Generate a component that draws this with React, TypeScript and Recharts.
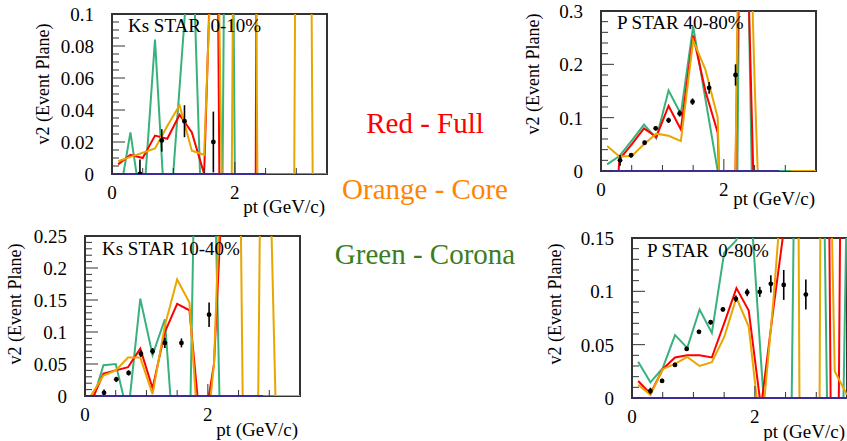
import React from "react";
import {
  ComposedChart,
  Line,
  Scatter,
  ErrorBar,
  XAxis,
  YAxis,
  ReferenceArea,
  ReferenceLine,
} from "recharts";

// model pt bins (GeV/c)
const ptBins = [0.1, 0.3, 0.5, 0.7, 0.9, 1.1, 1.3, 1.5, 1.7, 1.9, 2.1, 2.3, 2.5, 2.7, 2.9, 3.1, 3.3, 3.5];

// Ks STAR 0-10%
const ks010Full = [0.006, 0.012, 0.01, 0.024, 0.022, 0.037, 0.026, 0.0, 0.25, -0.8, -0.5, -0.5, 2.0, 2.0, 2.0, 2.0, 2.0, 2.0];
const ks010Core = [0.008, 0.0107, 0.0133, 0.016, 0.03, 0.043, 0.0145, 0.012, 0.22, -0.3, 0.9, 0.4, -0.8, -0.5, -0.5, 1.0, -0.2, -0.2];
const ks010Corona = [-0.019, 0.026, -0.026, 0.084, -0.05, 0.054, 0.16, -0.08, -0.5, 0.5, -0.5, 0, 0, 0, 0, 0, 0, 0];
const ks010StarPt = [0.455, 0.81, 1.18, 1.65];
const ks010StarV2 = [0.0, 0.021, 0.033, 0.02];
const ks010StarErr = [0.009, 0.007, 0.01, 0.019];

// P STAR 40-80%
const p4080Full = [-0.3, 0.022, 0.05, 0.08, 0.064, 0.122, 0.078, 0.254, 0.15, 0.072, -0.65, 0.8, -0.1, -0.3, -0.3, -0.3, -0.3, -0.3];
const p4080Core = [0.047, 0.027, 0.028, 0.05, 0.07, 0.066, 0.056, 0.245, 0.19, 0.1, -0.8, 1.0, 0.17, -0.5, -0.5, 0, 0, 0];
const p4080Corona = [0.0125, 0.028, 0.057, 0.087, 0.061, 0.151, 0.107, 0.271, 0.135, 0.0, -1.5, 1.0, -0.3, 0, 0, 0, 0, 0];
const p4080StarPt = [0.31, 0.49, 0.71, 0.89, 1.1, 1.28, 1.49, 1.76, 2.19];
const p4080StarV2 = [0.02, 0.0295, 0.053, 0.08, 0.095, 0.108, 0.13, 0.156, 0.18];
const p4080StarErr = [0.01, 0.004, 0.004, 0.004, 0.005, 0.006, 0.006, 0.011, 0.02];

// Ks STAR 10-40%
const ks1040Full = [-0.009, 0.035, 0.04, 0.045, 0.074, 0.012, 0.1, 0.144, 0.134, -0.07, 0.05, 0.45, 1.0, 1.0, 1.0, 1.0, 1.0, 1.0];
const ks1040Core = [0.001, 0.032, 0.04, 0.06, 0.06, 0.003, 0.11, 0.182, 0.146, -0.14, 0.05, 0.6, 0.6, -1.2, 0.8, 0, 0, 0];
const ks1040Corona = [-0.015, 0.048, 0.05, -0.03, 0.152, 0.064, 0.12, -0.147, -0.1, 1.0, 0.4, -0.5, 0, 0, 0, 0, 0, 0];
const ks1040StarPt = [0.31, 0.51, 0.71, 0.91, 1.1, 1.3, 1.57, 2.02];
const ks1040StarV2 = [0.005, 0.026, 0.036, 0.066, 0.07, 0.083, 0.083, 0.127];
const ks1040StarErr = [0.005, 0.004, 0.004, 0.005, 0.005, 0.008, 0.007, 0.019];

// P STAR 0-80%
const p080Full = [0.016, 0.004, 0.027, 0.038, 0.04, 0.04, 0.038, 0.07, 0.103, 0.082, -0.009, 0.083, 0.17, 0.5, 0.5, 1.0, -0.5, 1.0];
const p080Core = [0.0125, 0.003, 0.027, 0.032, 0.0385, 0.03, 0.0335, 0.057, 0.094, 0.067, -0.036, 0.09, 0.24, 0.3, -2.0, 0.6, 0.025, 0.003];
const p080Corona = [0.034, 0.0147, 0.028, 0.059, 0.047, 0.083, 0.061, 0.136, 0.148, 0.21, 0.035, -0.13, -0.5, 0.5, 0.5, 0.3, -0.5, 0.2];
const p080StarPt = [0.3, 0.49, 0.7, 0.89, 1.09, 1.28, 1.48, 1.69, 1.875, 2.08, 2.26, 2.47, 2.83];
const p080StarV2 = [0.0066, 0.016, 0.031, 0.046, 0.062, 0.071, 0.083, 0.093, 0.099, 0.0995, 0.107, 0.106, 0.097];
const p080StarErr = [0.003, 0.002, 0.002, 0.002, 0.002, 0.002, 0.002, 0.003, 0.0035, 0.0047, 0.008, 0.014, 0.014];

// axis ticks
const xTicks = [0, 0.5, 1, 1.5, 2, 2.5, 3];
const xMajor = [0, 2];
const xLabels = ["0", "2"];

const ks010YMajor = [0, 0.02, 0.04, 0.06, 0.08, 0.1];
const ks010YLabels = ["0", "0.02", "0.04", "0.06", "0.08", "0.1"];
const p4080YMajor = [0, 0.1, 0.2, 0.3];
const p4080YLabels = ["0", "0.1", "0.2", "0.3"];
const ks1040YMajor = [0, 0.05, 0.1, 0.15, 0.2, 0.25];
const ks1040YLabels = ["0", "0.05", "0.1", "0.15", "0.2", "0.25"];
const p080YMajor = [0, 0.05, 0.1, 0.15];
const p080YLabels = ["0", "0.05", "0.1", "0.15"];

const FONT = "'Liberation Serif', 'Times New Roman', serif";
const RED = "#ff0000";
const CORE = "#e8a600";
const CORONA = "#38b27c";
const ZERO = "#3a2d98";
const FRAME = "#333";

const PW = 215;
const PH = 160;
const ML = 60;
const MT = 10;
const MR = 10;
const MB = 40;

function steps(max: number, step: number) {
  const out: number[] = [];
  const n = Math.round(max / step);
  for (let i = 0; i <= n; i++) out.push(+(i * step).toFixed(4));
  return out;
}

const near = (a: number, b: number) => Math.abs(a - b) < 1e-6;

type PanelProps = {
  left: number;
  top: number;
  yMax: number;
  yStep: number;
  yMajor: number[];
  yLabels: string[];
  full: number[];
  core: number[];
  corona: number[];
  starPt: number[];
  starV2: number[];
  starErr: number[];
  zeroEnd: number;
  title: string;
  titlePos: [number, number];
  yTitlePos: [number, number];
  xTitlePos: [number, number];
};

function Panel(p: PanelProps) {
  const rows = ptBins.map((pt, i) => ({
    pt,
    full: p.full[i],
    core: p.core[i],
    corona: p.corona[i],
  }));
  // error bar is cut at the x axis, as in the frame
  const star = p.starPt.map((pt, i) => ({
    pt,
    v2: p.starV2[i],
    err: [Math.min(p.starErr[i], p.starV2[i]), p.starErr[i]],
  }));

  const yTick = (props: any) => {
    const { x, y, payload } = props;
    const k = p.yMajor.findIndex((m) => near(m, payload.value));
    return (
      <g>
        <line x1={x} x2={x + (k >= 0 ? 13 : 7)} y1={y} y2={y} stroke={FRAME} strokeWidth={1} />
        {k >= 0 && (
          <text x={x - 18} y={y} dy="0.36em" textAnchor="end" fontSize={19} fontFamily={FONT} fill="#000">
            {p.yLabels[k]}
          </text>
        )}
      </g>
    );
  };

  const xTick = (props: any) => {
    const { x, y, payload } = props;
    const k = xMajor.findIndex((m) => near(m, payload.value));
    return (
      <g>
        <line x1={x} x2={x} y1={y} y2={y - (k >= 0 ? 12 : 6)} stroke={FRAME} strokeWidth={1} />
        {k >= 0 && (
          <text x={x} y={y + 18} dy="0.36em" textAnchor="middle" fontSize={19} fontFamily={FONT} fill="#000">
            {xLabels[k]}
          </text>
        )}
      </g>
    );
  };

  return (
    <>
      <div style={{ position: "absolute", left: p.left - ML, top: p.top - MT }}>
        <ComposedChart
          width={ML + PW + MR}
          height={MT + PH + MB}
          data={rows}
          margin={{ top: MT, right: MR, left: ML - 1, bottom: MB - 1 }}
        >
          <XAxis
            type="number"
            dataKey="pt"
            domain={[0, 3.5]}
            allowDataOverflow
            ticks={xTicks}
            interval={0}
            height={1}
            tickSize={0}
            tickMargin={0}
            axisLine={false}
            tickLine={false}
            tick={xTick}
          />
          <YAxis
            type="number"
            domain={[0, p.yMax]}
            allowDataOverflow
            ticks={steps(p.yMax, p.yStep)}
            interval={0}
            width={1}
            tickSize={0}
            tickMargin={0}
            axisLine={false}
            tickLine={false}
            tick={yTick}
          />
          <ReferenceArea x1={0} x2={3.5} y1={0} y2={p.yMax} fill="none" fillOpacity={0} stroke={FRAME} strokeWidth={2} />
          <Line type="linear" dataKey="corona" stroke={CORONA} strokeWidth={2} dot={false} isAnimationActive={false} />
          <Line type="linear" dataKey="full" stroke={RED} strokeWidth={2} dot={false} isAnimationActive={false} />
          <Line type="linear" dataKey="core" stroke={CORE} strokeWidth={2} dot={false} isAnimationActive={false} />
          <Scatter
            data={star}
            dataKey="v2"
            isAnimationActive={false}
            shape={(s: any) => <circle cx={s.cx} cy={s.cy} r={2.4} fill="#000" />}
          >
            <ErrorBar dataKey="err" direction="y" width={0} stroke="#000" strokeWidth={1.6} />
          </Scatter>
          <ReferenceLine
            segment={[
              { x: 0, y: 0 },
              { x: p.zeroEnd, y: 0 },
            ]}
            stroke={ZERO}
            strokeWidth={2}
          />
        </ComposedChart>
      </div>
      <div
        style={{
          position: "absolute",
          left: p.titlePos[0],
          top: p.titlePos[1],
          fontFamily: FONT,
          fontSize: 19,
          lineHeight: "19px",
          whiteSpace: "pre",
          color: "#000",
        }}
      >
        {p.title}
      </div>
      <div
        style={{
          position: "absolute",
          left: p.yTitlePos[0],
          top: p.yTitlePos[1],
          transform: "translate(-50%, -50%) rotate(-90deg)",
          fontFamily: FONT,
          fontSize: 18,
          lineHeight: "18px",
          whiteSpace: "nowrap",
          color: "#000",
        }}
      >
        v2 (Event Plane)
      </div>
      <div
        style={{
          position: "absolute",
          left: p.xTitlePos[0] - 200,
          width: 200,
          top: p.xTitlePos[1],
          textAlign: "right",
          fontFamily: FONT,
          fontSize: 19,
          lineHeight: "19px",
          whiteSpace: "nowrap",
          color: "#000",
        }}
      >
        pt (GeV/c)
      </div>
    </>
  );
}

const legendStyle = (color: string, top: number): React.CSSProperties => ({
  position: "absolute",
  left: 300,
  width: 250,
  top,
  textAlign: "center",
  fontFamily: FONT,
  fontSize: 29,
  lineHeight: "29px",
  whiteSpace: "nowrap",
  color,
});

export default function App() {
  return (
    <div
      style={{
        position: "absolute",
        left: 0,
        top: 0,
        width: 847,
        height: 441,
        overflow: "hidden",
        background: "#fff",
      }}
    >
      <Panel
        left={112}
        top={14}
        yMax={0.1}
        yStep={0.005}
        yMajor={ks010YMajor}
        yLabels={ks010YLabels}
        full={ks010Full}
        core={ks010Core}
        corona={ks010Corona}
        starPt={ks010StarPt}
        starV2={ks010StarV2}
        starErr={ks010StarErr}
        zeroEnd={2.5}
        title={"Ks STAR  0-10%"}
        titlePos={[128, 16]}
        yTitlePos={[43, 84]}
        xTitlePos={[325, 197]}
      />
      <Panel
        left={601}
        top={11}
        yMax={0.3}
        yStep={0.02}
        yMajor={p4080YMajor}
        yLabels={p4080YLabels}
        full={p4080Full}
        core={p4080Core}
        corona={p4080Corona}
        starPt={p4080StarPt}
        starV2={p4080StarV2}
        starErr={p4080StarErr}
        zeroEnd={2.9}
        title={"P STAR 40-80%"}
        titlePos={[617, 13]}
        yTitlePos={[533, 74]}
        xTitlePos={[815, 189]}
      />
      <Panel
        left={85}
        top={236}
        yMax={0.25}
        yStep={0.01}
        yMajor={ks1040YMajor}
        yLabels={ks1040YLabels}
        full={ks1040Full}
        core={ks1040Core}
        corona={ks1040Corona}
        starPt={ks1040StarPt}
        starV2={ks1040StarV2}
        starErr={ks1040StarErr}
        zeroEnd={2.9}
        title={"Ks STAR 10-40%"}
        titlePos={[102, 239]}
        yTitlePos={[15, 304]}
        xTitlePos={[298, 420]}
      />
      <Panel
        left={632}
        top={238}
        yMax={0.15}
        yStep={0.01}
        yMajor={p080YMajor}
        yLabels={p080YLabels}
        full={p080Full}
        core={p080Core}
        corona={p080Corona}
        starPt={p080StarPt}
        starV2={p080StarV2}
        starErr={p080StarErr}
        zeroEnd={3.5}
        title={"P STAR  0-80%"}
        titlePos={[647, 241]}
        yTitlePos={[555, 304]}
        xTitlePos={[845, 422]}
      />
      <div style={legendStyle("#ff0000", 109)}>Red - Full</div>
      <div style={legendStyle("#ff8400", 175)}>Orange - Core</div>
      <div style={legendStyle("#3a7d22", 240)}>Green - Corona</div>
    </div>
  );
}
